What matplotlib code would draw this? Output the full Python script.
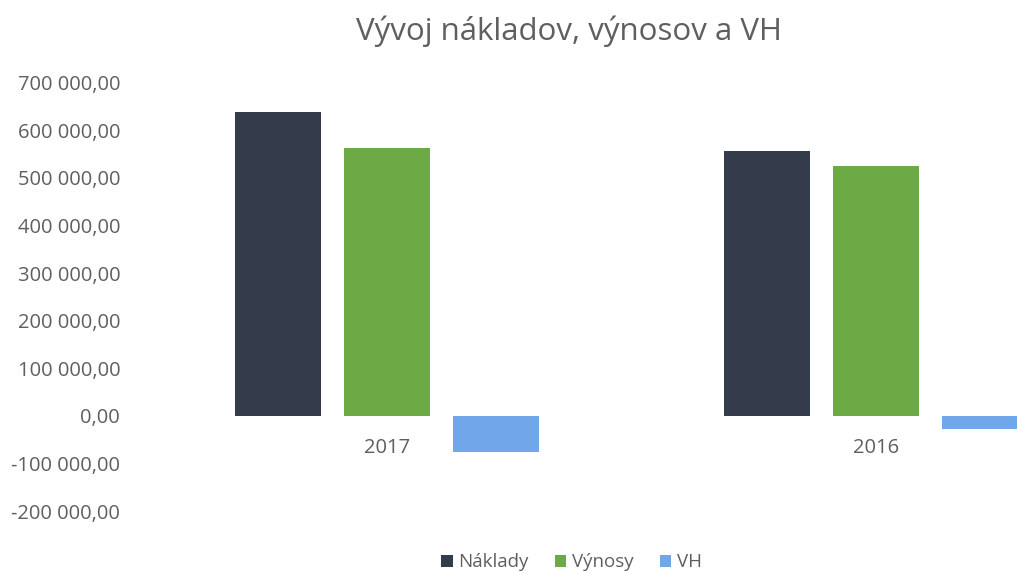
import matplotlib
matplotlib.use("Agg")
import matplotlib.pyplot as plt
from matplotlib.ticker import FuncFormatter
import numpy as np

# data
years = ["2017", "2016"]
naklady = [639000, 557000]
vynosy = [562000, 525000]
vh = [-76000, -27000]

series_names = ["Náklady", "Výnosy", "VH"]
colors = ["#343B4B", "#6DAA45", "#6FA7EA"]
text_color = "#5f5f5f"

plt.rcParams['font.family'] = ['Open Sans', 'DejaVu Sans']

fig = plt.figure(figsize=(10.17, 5.71), dpi=100)
# plot area is cut off on the right in the source picture
ax = fig.add_axes([0.140, 0.105, 0.860, 0.750])

x = np.arange(len(years))
width = 0.176
step = 0.223
for i, (vals, name) in enumerate(zip([naklady, vynosy, vh], series_names)):
    ax.bar(x + (i - 1) * step, vals, width, color=colors[i], label=name)

ax.set_xlim(-0.5, 1.288)
ax.set_ylim(-200000, 700000)
ax.set_yticks(np.arange(-200000, 700001, 100000))


def fmt(v, pos):
    s = f"{abs(v):,.2f}".replace(",", " ").replace(".", ",")
    return ("-" if v < 0 else "") + s


ax.yaxis.set_major_formatter(FuncFormatter(fmt))
ax.set_xticks(x)
ax.set_xticklabels(years)
ax.spines['bottom'].set_position(('data', 0))
for sp in ax.spines.values():
    sp.set_visible(False)
ax.tick_params(axis='both', length=0, colors=text_color, labelsize=14.5)
ax.tick_params(axis='x', pad=16)
ax.tick_params(axis='y', pad=16)

fig.suptitle("Vývoj nákladov, výnosov a VH", x=0.559, y=0.972,
             fontsize=22.5, color=text_color)

leg = fig.legend(loc='lower center', bbox_to_anchor=(0.562, -0.03), ncol=3,
                 frameon=False, fontsize=13.5, handlelength=0.6, handleheight=0.6,
                 handletextpad=0.3, columnspacing=1.4)
for t in leg.get_texts():
    t.set_color(text_color)

fig.savefig("out.png", dpi=100)
